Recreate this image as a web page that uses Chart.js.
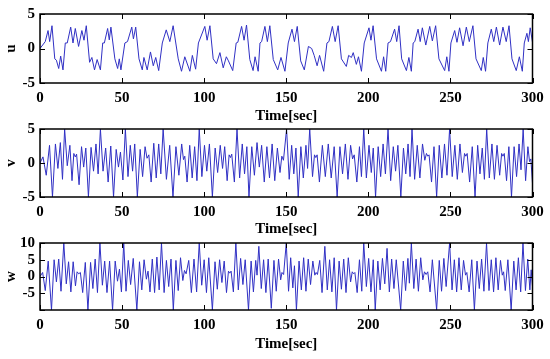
<!DOCTYPE html>
<html>
<head>
<meta charset="utf-8">
<script src="https://cdn.jsdelivr.net/npm/chart.js@4.4.0/dist/chart.umd.min.js"></script>
<style>
  html, body { margin: 0; padding: 0; background: #fff; }
  #wrap { position: relative; width: 550px; height: 359px; overflow: hidden; }
  canvas { position: absolute; left: 0; }
</style>
</head>
<body>
<div id="wrap">
  <canvas id="uChart" width="550" height="125" style="top:0px"></canvas>
  <canvas id="vChart" width="550" height="125" style="top:115px"></canvas>
  <canvas id="wChart" width="550" height="130" style="top:229px"></canvas>
</div>
<script>
// tick labels
const timeTicks = [0, 50, 100, 150, 200, 250, 300];
const uvTicks = [-5, 0, 5];
const uvTickText = ['-5', '0', '5'];
const wTicks = [-10, -5, 0, 5, 10];
const wTickText = ['', '-5', '0', '5', '10'];

// u(t) - vertices
const uTime = [0, 3.2, 4.9, 5.9, 7.3, 9.0, 10, 11.4, 12.6, 14.0,
  15.4, 16.6, 18.7, 20.1, 21.5, 23.5, 25.5, 26.8, 28.2,
  30.2, 31.6, 33.2, 34.8, 36.8, 38.2, 39.2, 41.2, 42.2, 43.2,
  45.6, 47.3, 48.3, 49.3, 51.7, 53.3, 55.9, 56.9, 58.3,
  60.3, 62.3, 63.3, 65.3, 67.3, 69, 70.5, 72.3,
  74.5, 76.9, 79.1, 81.1, 84.2, 86.2, 88.2, 91.3, 92.8, 94.8,
  96.5, 100.4, 101.8, 103.5, 105.5, 107.5, 109.6, 111.6, 113.5, 114.8, 117.4,
  119.5, 120.5, 122.8, 124.3, 125.8, 127.8, 129.8, 131, 132.9,
  134, 135, 137, 138.5, 140, 142.1, 144.8, 146.8, 149.2,
  151.2, 153.5, 155, 156.7, 158.8, 161, 163.5, 165.5, 167, 168.8, 170.3, 172.8,
  174.8, 176, 178.1, 179.8, 181.6, 183.6, 186.6, 188, 189.7, 190.8, 192.7, 194, 195.8,
  197.5, 200.4, 201.6, 202.9, 205, 208, 209.3, 210.6,
  212, 213.5, 216, 217.3, 218.7, 220.3, 223.2, 224.7, 226.2,
  227.3, 228.3, 230.3, 231.6, 232.9, 235, 237.4, 239, 241,
  243, 246.5, 247.8, 249.1, 250.3, 252.6, 254, 255.6, 257.7, 259.7, 261.5, 263.7,
  265.6, 268.8, 270, 271.4, 272.8, 274.9, 276.4, 278, 280, 282, 284, 285.7,
  287.5, 290.1, 292, 293.8, 295, 296.6, 297.5, 298.6, 300];
const uVal = [0, 1.0, 2.6, 1.0, 3.3, -1.5, -1.7, -2.9, -1.1, -3.1,
  0.8, 0.8, 3.1, 0.8, 2.9, 0.3, 2.6, 1.2, 3.3,
  -2.0, -1.3, -3.1, -1.6, -3.1, 0.8, 0.8, 2.9, 1.25, 3.1,
  -1.5, -2.9, -1.5, -3.1, 0.8, 1.0, 3.1, 1.4, 3.1,
  -1.5, -3.1, -1.3, -3.1, -0.5, -2.5, -1.3, -3.2,
  0.8, 2.7, 1.0, 3.3, -1.5, -3.3, -1.2, -3.3, -1.0, -3.0,
  0.8, 3.2, 1.2, 3.3, -1.5, -2.2, -0.6, -2.8, -1.2, -1.8, -3.2,
  0.8, 0.9, 3.2, 1.2, 3.4, -1.6, -3.2, -1.2, -3.3,
  0.8, 1.0, 3.2, 1.0, 3.3, -1.6, -3.1, -1.3, -3.3,
  0.8, 2.8, 1.0, 3.2, -1.8, -3.1, 0.3, 0, -1.0, -2.5, -1.0, -3.3,
  0.8, 1.0, 3.2, 1.0, 3.3, -1.5, -2.6, -1.0, -1.3, -0.6, -2.3, -1.2, -3.3,
  0.8, 3.0, 1.2, 3.3, -1.5, -3.3, -1.2, -3.3,
  0.8, 1.0, 2.8, 1.0, 3.3, -1.5, -3.2, -1.3, -3.3,
  0.8, 1.0, 2.8, 1.0, 3.0, 0.5, 3.2, 1.1, 3.3,
  -1.5, -3.2, -1.2, -3.3, 0.8, 2.6, 0.9, 3.0, 0.4, 3.1, 1.0, 3.3,
  -1.5, -3.2, -1.3, -3.3, 0.8, 2.8, 1.0, 3.1, 0.5, 3.1, 1.0, 3.3,
  -1.5, -3.2, -1.2, -3.3, 0.8, 2.2, 1.0, 3.0, 0.9];

// v(t) - vertices
const vTime = [0, 1.8, 3.8, 5.8, 7.6, 9.4, 10.9, 12.4, 13.7, 15.0,
  16.6, 18.2, 19.5, 20.6, 21.5, 22.3, 23.8, 25.3, 26.6, 27.9, 29.5,
  31.1, 32.6, 34.1, 35.4, 36.8, 38.4, 40.0, 41.5, 43.1, 44.8,
  46.4, 47.8, 49.0, 50.5, 52.0, 53.6, 55.0, 56.4, 57.7, 59.3,
  61.0, 62.5, 64.0, 65.2, 66.3, 67.7, 69.3, 70.8, 72.3, 73.6, 75.0,
  77.0, 79.0, 81.0, 82.8, 84.6, 86.3, 87.4, 88.2, 89.6, 91.2, 92.7, 94.2, 95.6, 97.0,
  98.6, 100.2, 101.6, 103.2, 105.0, 106.7, 108.2, 109.8, 111.2, 112.5, 114.0,
  115.2, 116.0, 116.8, 118.4, 120.0, 121.6, 123.2, 124.6, 126.0, 127.3,
  129.0, 130.6, 132.2, 133.6, 135.0, 136.6, 138.2, 139.8, 141.4, 143.0, 144.6,
  146.2, 147.3, 148.3, 150.2, 151.8, 153.3, 154.6, 155.9, 157.3,
  158.9, 160.4, 162.0, 163.0, 164.3, 166.0, 167.2, 168.0, 168.8, 170.2,
  172.0, 173.8, 175.6, 177.4, 179.2, 181.0, 182.7, 184.3, 186.0, 187.6, 189.2,
  190.4, 191.4, 193.0, 194.6, 195.8, 197.2, 198.8, 200.4, 201.8, 203.0, 204.4,
  206.0, 207.5, 209.0, 210.4, 212.0, 213.6, 215.2, 216.6, 218.0, 219.8,
  221.4, 222.8, 224.2, 225.4, 226.6, 228.2, 229.8, 231.4, 233.0, 234.4, 235.4, 236.2, 237.0,
  238.5, 240.0, 241.6, 243.2, 244.8, 246.4, 247.9, 249.5, 251.1, 252.7, 254.2, 255.8,
  257.3, 258.6, 259.4, 260.2, 261.7, 263.3, 265.0, 266.6, 268.0, 269.4, 270.7, 272.1,
  273.7, 275.3, 276.8, 278.4, 280.0, 281.2, 282.0, 282.8, 284.2, 285.6, 287.2,
  288.8, 290.3, 291.8, 293.0, 294.3, 295.8, 297.2, 298.2, 299.0, 300];
const vVal = [0, 0.9, -1.8, 2.6, -5.0, 2.8, -0.8, 3.0, -2.4, 5.0,
  -0.4, 2.6, -2.6, 1.4, 0.9, 1.3, -3.2, 2.4, -0.6, 2.2, -5.0,
  2.3, -1.2, 2.8, -1.6, 5.0, -1.2, 2.2, -2.8, 2.5, -5.0,
  2.0, -0.6, 1.6, -2.5, 5.0, -2.0, 2.6, -1.2, 2.8, -5.0,
  2.0, -2.0, 2.4, 0.7, 1.2, -2.8, 2.9, -2.2, 2.8, -1.6, 5.0,
  -2.4, 2.6, -5.0, 2.4, -1.8, 2.8, 0.5, 1.0, -2.8, 2.6, -2.2, 2.4, -2.6, 5.0,
  -2.0, 2.6, -1.2, 2.8, -5.0, 2.2, -1.4, 2.6, -0.8, 2.4, -2.6,
  1.2, 0.8, 1.3, -2.8, 5.0, -2.2, 2.8, -1.6, 2.4, -5.0,
  2.4, -1.8, 3.0, -0.6, 2.6, -2.8, 2.4, -2.2, 2.8, -2.6, 2.2,
  -1.4, 1.0, 0.4, 5.0, -2.4, 2.6, -1.6, 2.2, -5.0,
  2.4, -2.2, 2.6, -0.8, 5.0, -2.0, 1.2, 0.8, 1.2, -2.8,
  2.6, -2.0, 2.8, -2.2, 2.4, -5.0, 2.4, -1.6, 2.8, -2.4, 2.6,
  0.6, 1.2, -2.8, 2.4, -2.0, 5.0, -2.2, 2.6, -1.4, 2.2, -5.0,
  2.4, -2.0, 2.8, -1.6, 5.0, -2.6, 2.4, -1.2, 2.6, -5.0,
  2.2, -1.6, 2.8, -2.0, 5.0, -2.4, 2.6, -2.2, 2.8, 0.4, 1.4, 1.0, 1.2,
  -2.8, 2.4, -5.0, 2.6, -2.2, 2.8, -1.8, 5.0, -2.0, 2.6, -2.4, 2.8,
  -1.4, 1.4, 1.0, 1.4, -2.8, 2.4, -5.0, 2.6, -1.6, 2.2, -2.4, 5.0,
  -2.2, 2.8, -2.4, 2.6, -1.8, 1.4, 1.0, 1.4, -2.6, 2.4, -5.0,
  2.4, -2.0, 2.8, -1.0, 5.0, -2.6, 2.4, 0.2, 0.6, -3.0];

// w(t) - vertices
const wTime = [0, 1.6, 3.2, 5.0, 7.0, 8.6, 10.0, 11.4, 12.8, 14.5,
  16.0, 17.4, 18.8, 20.2, 21.6, 22.6, 23.6, 24.6, 26.0, 27.6, 29.2,
  30.8, 32.2, 33.6, 35.0, 36.5, 38.0, 39.4, 40.8, 42.4, 44.2,
  45.8, 47.2, 48.4, 49.6, 51.0, 52.4, 53.8, 55.2, 56.8, 59.0,
  60.6, 62.0, 63.4, 64.8, 65.8, 67.0, 68.4, 69.8, 71.2, 72.6, 74.0,
  75.6, 77.0, 78.4, 79.8, 81.2, 82.8, 84.2, 85.6, 87.0, 88.0, 89.0,
  90.6, 92.2, 93.8, 95.4, 97.0, 98.5, 100.0, 101.4, 102.8, 105.0,
  106.6, 108.0, 109.4, 110.8, 112.2, 113.6, 114.8, 115.6, 116.4, 117.8, 119.3,
  120.8, 122.2, 123.6, 125.0, 127.0, 128.6, 130.0, 131.4, 132.2, 133.3,
  134.8, 136.2, 137.6, 139.0, 140.9, 142.5, 143.9, 145.3, 146.6, 147.4, 148.4,
  150.0, 151.4, 152.7, 154.0, 155.0, 156.2, 157.8, 159.2, 160.6, 162.0, 163.4,
  164.8, 166.2, 167.4, 168.2, 169.0, 170.4, 171.8, 173.5, 175.0, 176.4, 177.8, 179.2, 180.6,
  182.2, 183.6, 185.0, 186.4, 187.8, 189.2, 190.2, 191.0, 191.8, 193.2, 194.6, 196.0, 197.2,
  198.8, 200.2, 201.6, 203.0, 204.2, 205.8, 207.2, 208.6, 210.0, 211.4,
  212.8, 214.2, 215.6, 217.0, 219.7, 221.3, 222.7, 224.1, 225.0, 226.2,
  227.7, 229.1, 230.5, 231.9, 233.2, 234.2, 235.2, 236.2, 237.6, 239.0, 241.6,
  243.2, 244.6, 246.0, 247.4, 249.5, 251.0, 252.4, 253.8, 255.2, 256.6, 258.0,
  259.2, 260.0, 261.4, 263.0, 264.6, 266.2, 267.6, 269.0, 270.4, 272.0,
  273.5, 274.9, 276.3, 277.7, 279.1, 280.5, 281.6, 282.4, 283.4, 285.0, 287.0,
  288.6, 290.0, 291.4, 292.8, 294.2, 295.7, 297.1, 298.4, 299.2, 300];
const wVal = [0, 1.2, -4.2, 4.6, -10, 5.0, -1.6, 5.2, -4.4, 10,
  -2.2, 4.4, -4.6, 4.4, -2.8, 1.4, 0.8, 1.2, -4.8, 4.2, -10,
  4.2, -3.6, 5.2, -4.8, 10, -2.6, 4.6, -4.8, 4.6, -10,
  4.6, -1.4, 2.2, -4.6, 10, -4.4, 4.8, -2.4, 5.4, -10,
  4.4, -4.0, 5.0, -0.8, 1.6, -4.6, 5.2, -4.8, 5.8, -4.0, 10,
  -4.8, 4.8, -3.0, 5.2, -10, 4.8, -4.2, 5.6, -1.2, 1.8, 0.8,
  4.8, -4.8, 5.2, -4.6, 10, -2.6, 5.0, -4.8, 5.6, -10,
  4.4, -3.8, 5.0, -1.8, 4.6, -4.8, 1.6, 1.0, 1.6, -4.6, 10,
  -4.0, 5.4, -2.4, 5.0, -10, 4.6, -4.6, 4.8, 0.4, 9.0,
  -3.6, 5.0, -4.8, 5.2, -9.5, 4.8, -4.4, 5.2, -1.0, 1.2, 0.6,
  10, -4.4, 5.6, -3.4, 3.2, -10, 4.6, -4.0, 5.6, -4.4, 5.2,
  -2.4, 4.6, 0.4, 1.2, 0.6, 4.8, -4.8, 9.0, -4.0, 5.0, -4.6, 5.6, -10,
  4.6, -3.8, 5.2, -4.8, 5.6, -1.6, 1.4, 0.8, 1.2, -4.8, 5.0, -4.4, 10,
  -3.0, 5.4, -4.6, 5.0, -10, 4.6, -4.0, 5.4, -2.2, 8.4,
  -4.6, 5.2, -3.6, 5.0, -10, 4.6, -4.2, 5.4, -2.0, 10,
  -3.6, 5.2, -4.4, 5.6, -1.0, 1.4, 0.6, 1.4, -4.6, 5.0, -10,
  4.8, -4.4, 5.4, -3.0, 10, -4.0, 5.0, -4.6, 5.6, -4.0, 4.8,
  0.4, 1.2, -4.6, 5.0, -10, 4.6, -3.6, 5.2, -4.4, 10,
  -4.2, 5.0, -4.6, 5.6, -4.0, 4.8, 0.4, 1.4, -4.2, 5.0, -10,
  4.6, -4.0, 5.6, -4.6, 10, -4.2, 5.2, -4.0, 2.0, -3.0];

const serif = 'Liberation Serif, Times New Roman, serif';

// box round the plot + inward tick marks on all four sides
const boxTicks = {
  id: 'boxTicks',
  afterDatasetsDraw(chart) {
    const { ctx, chartArea: a, scales: { x, y } } = chart;
    const len = 5;
    ctx.save();
    ctx.strokeStyle = '#000';
    ctx.lineWidth = 1;
    ctx.beginPath();
    x.ticks.forEach(t => {
      const px = Math.round(x.getPixelForValue(t.value)) + 0.5;
      ctx.moveTo(px, a.bottom); ctx.lineTo(px, a.bottom - len);
      ctx.moveTo(px, a.top); ctx.lineTo(px, a.top + len);
    });
    y.ticks.forEach(t => {
      const py = Math.round(y.getPixelForValue(t.value)) + 0.5;
      ctx.moveTo(a.left, py); ctx.lineTo(a.left + len, py);
      ctx.moveTo(a.right, py); ctx.lineTo(a.right - len, py);
    });
    ctx.stroke();
    ctx.lineWidth = 1.5;
    ctx.strokeRect(a.left, a.top, a.right - a.left, a.bottom - a.top);
    ctx.restore();
  }
};

function makeChart(id, times, values, yTicks, yText, yLabel, opts) {
  const ctx = document.getElementById(id).getContext('2d');
  return new Chart(ctx, {
    type: 'line',
    data: {
      datasets: [{
        data: times.map((t, i) => ({ x: t, y: values[i] })),
        borderColor: 'rgb(48,48,196)',
        borderWidth: 1,
        pointRadius: 0,
        tension: 0,
        fill: false
      }]
    },
    options: {
      responsive: false,
      animation: false,
      events: [],
      layout: { padding: { top: opts.top, right: 17.5, left: 0, bottom: 0 } },
      plugins: { legend: { display: false }, tooltip: { enabled: false } },
      scales: {
        x: {
          type: 'linear',
          min: 0,
          max: 300,
          afterBuildTicks: s => { s.ticks = timeTicks.map(v => ({ value: v })); },
          afterFit: s => { s.height = opts.xHeight; },
          grid: { display: false, drawTicks: false },
          border: { display: false },
          ticks: { color: '#000', padding: 6, autoSkip: false, maxRotation: 0, font: { family: serif, size: 15, weight: 'bold' } },
          title: {
            display: true,
            text: 'Time[sec]',
            color: '#000',
            padding: { top: 0, bottom: opts.titlePad },
            font: { family: serif, size: 15, weight: 'bold' }
          }
        },
        y: {
          min: yTicks[0],
          max: yTicks[yTicks.length - 1],
          afterBuildTicks: s => { s.ticks = yTicks.map(v => ({ value: v })); },
          afterFit: s => { s.width = 40; },
          grid: { display: false, drawTicks: false },
          border: { display: false },
          ticks: {
            color: '#000',
            padding: 5,
            autoSkip: false,
            callback: (v, i) => yText[i],
            font: { family: serif, size: 15, weight: 'bold' }
          },
          title: {
            display: true,
            text: yLabel,
            color: '#000',
            padding: { top: 2, bottom: 0 },
            font: { family: serif, size: 15, weight: 'bold' }
          }
        }
      }
    },
    plugins: [boxTicks]
  });
}

makeChart('uChart', uTime, uVal, uvTicks, uvTickText, 'u', { top: 11, xHeight: 42, titlePad: 0 });
makeChart('vChart', vTime, vVal, uvTicks, uvTickText, 'v', { top: 10, xHeight: 43, titlePad: 2 });
makeChart('wChart', wTime, wVal, wTicks, wTickText, 'w', { top: 10, xHeight: 49, titlePad: 6 });
</script>
</body>
</html>
